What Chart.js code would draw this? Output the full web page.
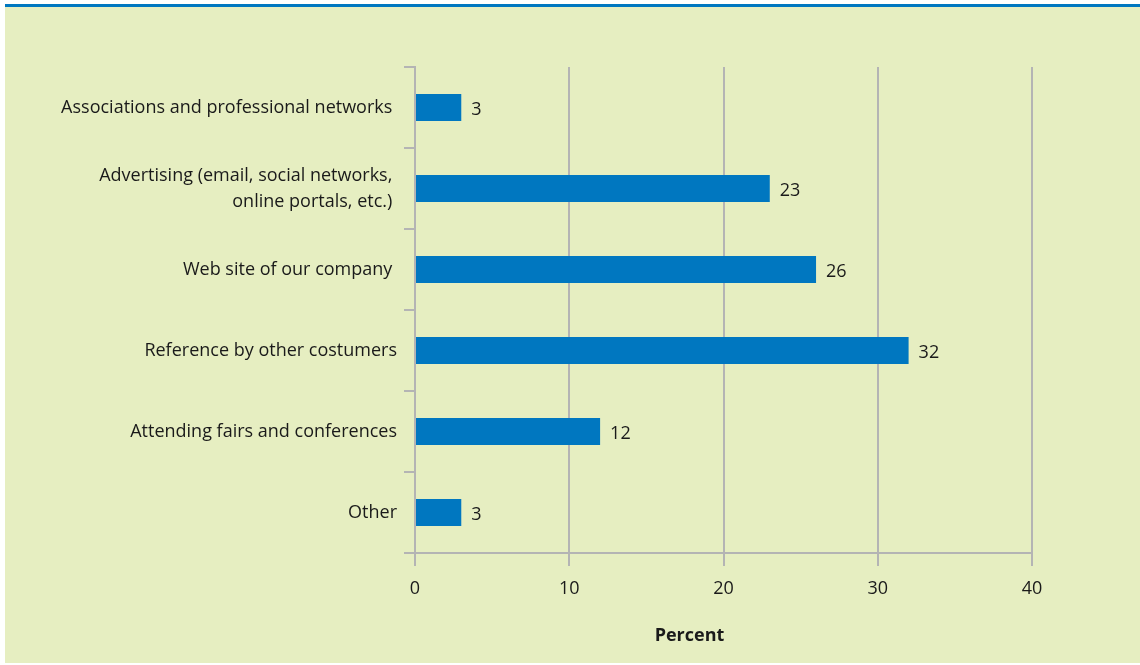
<!DOCTYPE html>
<html>
<head>
<meta charset="utf-8">
<script src="https://cdn.jsdelivr.net/npm/chart.js@4/dist/chart.umd.min.js"></script>
<style>
	html, body { margin: 0; padding: 0; background: #ffffff; }
	#box {
		position: absolute;
		left: 5px;
		top: 4px;
		width: 1135px;
		height: 656px;
		background: #e6eec1;
		border-top: 3px solid #0077c0;
	}
	canvas { display: block; }
</style>
</head>
<body>
<div id="box"><canvas id="myChart" width="1135" height="656"></canvas></div>
<script>
const categories = [
	"Associations and professional networks ",
	["Advertising (email, social networks, ", "online portals, etc.) "],
	"Web site of our company ",
	"Reference by other costumers",
	"Attending fairs and conferences",
	"Other"
]
const percentValues = [3, 23, 26, 32, 12, 3]
const xTicks = [0, 10, 20, 30, 40]
const axisTitle = "Percent"

const fontFamily = "'Open Sans', sans-serif"
const fontSize = 18
const textColor = "#1a1a1a"
const gridColor = "#b4b4b4"

// writes the number just right of each bar
const valueLabels = {
	id: "valueLabels",
	afterDatasetsDraw(chart) {
		const ctx = chart.ctx
		const meta = chart.getDatasetMeta(0)
		ctx.save()
		ctx.font = `${fontSize}px ${fontFamily}`
		ctx.fillStyle = textColor
		ctx.textAlign = "left"
		ctx.textBaseline = "middle"
		meta.data.forEach((bar, i) => {
			ctx.fillText(String(percentValues[i]), bar.x + 10, bar.y + 2)
		})
		ctx.restore()
	}
}

// bold axis title under the tick labels
const bottomTitle = {
	id: "bottomTitle",
	afterDraw(chart) {
		const ctx = chart.ctx
		const area = chart.chartArea
		ctx.save()
		ctx.font = `bold ${fontSize}px ${fontFamily}`
		ctx.fillStyle = textColor
		ctx.textAlign = "center"
		ctx.textBaseline = "middle"
		ctx.fillText(axisTitle, (area.left + area.right) / 2 - 34, area.bottom + 83)
		ctx.restore()
	}
}

new Chart("myChart", {
	type: "bar",
	data: {
		labels: categories,
		datasets: [{
			data: percentValues,
			backgroundColor: "#0077c0",
			borderWidth: 0,
			barPercentage: 0.335,
			categoryPercentage: 1
		}]
	},
	options: {
		indexAxis: "y",
		responsive: false,
		animation: false,
		layout: { padding: { top: 60, right: 108, left: 0, bottom: 0 } },
		plugins: {
			legend: { display: false },
			tooltip: { enabled: false }
		},
		scales: {
			x: {
				min: 0,
				max: 40,
				afterBuildTicks(scale) {
					scale.ticks = xTicks.map(v => ({ value: v }))
				},
				afterFit(scale) {
					scale.height = 110
				},
				grid: {
					color: gridColor,
					lineWidth: 2,
					tickLength: 13,
					drawOnChartArea: true
				},
				border: { display: true, color: gridColor, width: 2 },
				ticks: {
					padding: 12,
					color: textColor,
					font: { family: fontFamily, size: fontSize }
				}
			},
			y: {
				afterFit(scale) {
					scale.width = 410
				},
				grid: {
					offset: true,
					color: gridColor,
					lineWidth: 2,
					tickLength: 11,
					drawOnChartArea: false
				},
				border: { display: true, color: gridColor, width: 2 },
				ticks: {
					padding: 7,
					color: textColor,
					font: { family: fontFamily, size: fontSize, lineHeight: 1.45 }
				}
			}
		}
	},
	plugins: [valueLabels, bottomTitle]
})
</script>
</body>
</html>
